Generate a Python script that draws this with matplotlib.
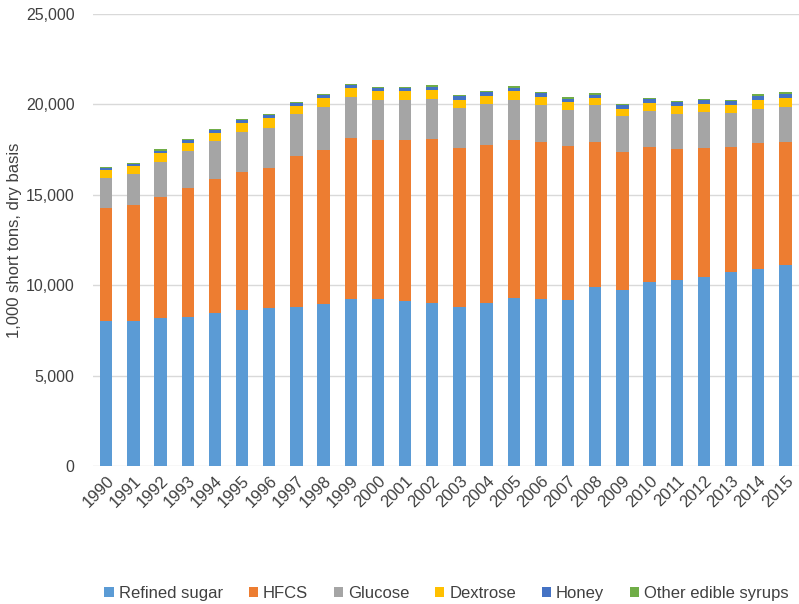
import matplotlib.pyplot as plt
import numpy as np
from matplotlib.ticker import FuncFormatter

years = [str(y) for y in range(1990, 2016)]

# 1,000 short tons, dry basis
refined_sugar = [8050, 8020, 8200, 8250, 8450, 8650, 8750, 8800, 8950, 9250, 9250, 9150, 9050,
                 8800, 9000, 9300, 9250, 9200, 9900, 9750, 10200, 10300, 10450, 10750, 10900, 11100]
hfcs = [6220, 6420, 6680, 7130, 7420, 7610, 7730, 8350, 8530, 8890, 8780, 8880, 9040,
        8790, 8750, 8730, 8670, 8500, 8020, 7620, 7440, 7230, 7140, 6890, 6960, 6820]
glucose = [1660, 1710, 1930, 2040, 2110, 2210, 2210, 2320, 2380, 2270, 2210, 2210, 2210,
           2210, 2270, 2210, 2050, 1990, 2050, 1990, 1990, 1940, 1990, 1880, 1890, 1940]
dextrose = [440, 440, 500, 440, 440, 500, 560, 440, 490, 500, 500, 500, 500,
            440, 440, 500, 440, 440, 380, 390, 450, 440, 440, 450, 490, 490]
honey = [130, 140, 140, 150, 150, 150, 150, 160, 160, 150, 170, 170, 170,
         200, 200, 190, 200, 190, 180, 200, 200, 200, 200, 200, 220, 220]
other_syrups = [50, 50, 60, 60, 60, 60, 60, 60, 60, 50, 60, 70, 80,
                90, 80, 70, 80, 80, 90, 80, 80, 70, 80, 80, 90, 100]

series = [
    ("Refined sugar", refined_sugar, "#5B9BD5"),
    ("HFCS", hfcs, "#ED7D31"),
    ("Glucose", glucose, "#A5A5A5"),
    ("Dextrose", dextrose, "#FFC000"),
    ("Honey", honey, "#4472C4"),
    ("Other edible syrups", other_syrups, "#70AD47"),
]

plt.rcParams['font.family'] = ['Liberation Sans', 'DejaVu Sans']

fig = plt.figure(figsize=(7.99, 6.04), dpi=100)
ax = fig.add_axes([0.116, 0.228, 0.884, 0.749])

x = np.arange(len(years))
bottom = np.zeros(len(years))
for name, vals, color in series:
    ax.bar(x, vals, width=0.45, bottom=bottom, color=color, label=name, zorder=3)
    bottom += np.array(vals)

ax.set_xlim(-0.5, len(years) - 0.5)
ax.set_ylim(0, 25000)
ax.set_yticks(range(0, 25001, 5000))
ax.yaxis.set_major_formatter(FuncFormatter(lambda v, p: f"{int(v):,}"))
ax.set_xticks(x)
ax.set_xticklabels(years, rotation=45, ha='right', rotation_mode='anchor')

ax.grid(axis='y', color='#D9D9D9', linewidth=1, zorder=0)
for s in ax.spines.values():
    s.set_visible(False)
ax.tick_params(axis='both', length=0, labelcolor='#404040')
ax.tick_params(axis='y', pad=13, labelsize=11.5)
ax.tick_params(axis='x', pad=5, labelsize=12)

ax.set_ylabel("1,000 short tons, dry basis", fontsize=12, color='#404040', labelpad=3)

fig.legend(loc='center', bbox_to_anchor=(0.559, 0.018), ncol=6, frameon=False,
           fontsize=12, handlelength=0.55, handleheight=0.55, handletextpad=0.3,
           columnspacing=1.55, labelcolor='#404040')

fig.savefig("out.png", dpi=100)
